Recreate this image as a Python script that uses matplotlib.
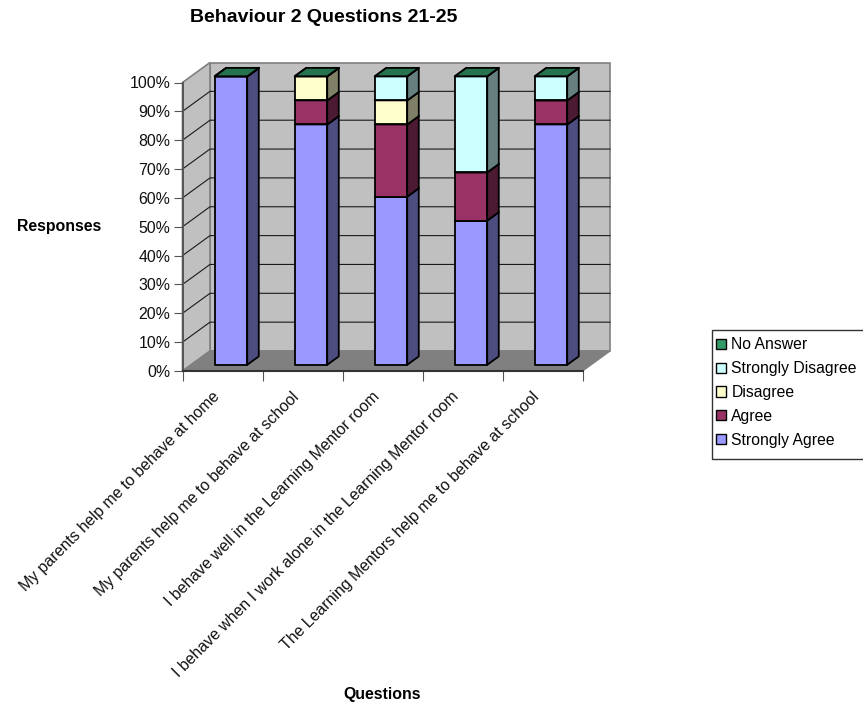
import matplotlib
matplotlib.use("Agg")
import matplotlib.pyplot as plt
from matplotlib.patches import Patch, Rectangle
from matplotlib.transforms import ScaledTranslation

plt.rcParams['font.family'] = ['Liberation Sans', 'DejaVu Sans']

questions = ["My parents help me to behave at home",
             "My parents help me to behave at school",
             "I behave well in the Learning Mentor room",
             "I behave when I work alone in the Learning Mentor room",
             "The Learning Mentors help me to behave at school"]
strongly_agree = [100, 83.3, 58.3, 50, 83.3]
agree = [0, 8.35, 25, 16.7, 8.35]
disagree = [0, 8.35, 8.35, 0, 0]
strongly_disagree = [0, 0, 8.35, 33.3, 8.35]
no_answer = [0, 0, 0, 0, 0]
series_names = ["Strongly Agree", "Agree", "Disagree", "Strongly Disagree", "No Answer"]
series_values = [strongly_agree, agree, disagree, strongly_disagree, no_answer]
front_colors = ["#9999FF", "#993366", "#FFFFCC", "#CCFFFF", "#339966"]
side_colors = ["#4D4D80", "#4D1A33", "#808066", "#668080", "#1A4D33"]
top_colors = ["#7373BF", "#73264D", "#BFBF99", "#99BFBF", "#267350"]
yticks = list(range(0, 101, 10))

W, H = 863, 704
fig = plt.figure(figsize=(W / 100, H / 100), dpi=100)
L, R, T, B = 182.5, 582.5, 82.5, 371
ax = fig.add_axes([L / W, 1 - B / H, (R - L) / W, (B - T) / H])
ax.patch.set_visible(False)
ax.set_xlim(0, 5)
ax.set_ylim(0, 100)

DX = 27.5 / 80          # full depth in category units
DY = 20 / 2.885         # full depth in percent units


def proj(x, y, d):
    return x + d * DX, y + d * DY


def face(pts, **kw):
    p = [proj(*q) for q in pts]
    ax.fill([a for a, _ in p], [b for _, b in p], clip_on=False, **kw)


# walls and floor
wall_edge = "#808080"
face([(0, 0, 1), (5, 0, 1), (5, 100, 1), (0, 100, 1)], fc="#C0C0C0", ec=wall_edge, lw=1.2, zorder=1)
face([(0, 0, 0), (0, 0, 1), (0, 100, 1), (0, 100, 0)], fc="#C0C0C0", ec=wall_edge, lw=1.2, zorder=1)
face([(0, 0, 0), (5, 0, 0), (5, 0, 1), (0, 0, 1)], fc="#808080", ec=wall_edge, lw=1, zorder=1.1)
for v in yticks[1:-1]:
    xs, ys = zip(proj(0, v, 0), proj(0, v, 1), proj(5, v, 1))
    ax.plot(xs, ys, color="#1a1a1a", lw=0.8, clip_on=False, zorder=1.2)

# stacked 3D columns
bar_w = 0.405
d0, d1 = 0.31, 0.73
for i in range(len(questions)):
    x0 = i + 0.5 - bar_w / 2
    x1 = x0 + bar_w
    base = 0
    for s, vals in enumerate(series_values):
        top = base + vals[i]
        z = 3 + s * 0.1
        kw = dict(ec="black", lw=1.3, joinstyle="round", zorder=z)
        face([(x0, base, d0), (x1, base, d0), (x1, top, d0), (x0, top, d0)], fc=front_colors[s], **kw)
        face([(x1, base, d0), (x1, base, d1), (x1, top, d1), (x1, top, d0)], fc=side_colors[s], **kw)
        face([(x0, top, d0), (x1, top, d0), (x1, top, d1), (x0, top, d1)], fc=top_colors[s], **kw)
        base = top

# axes
for sp in ("top", "right"):
    ax.spines[sp].set_visible(False)
ax.spines["left"].set_color("#555555")
ax.spines["left"].set_linewidth(1.4)
ax.spines["bottom"].set_color("#333333")
ax.spines["bottom"].set_linewidth(1.5)
ax.spines["left"].set_zorder(2)
ax.spines["bottom"].set_zorder(2)
fs = 11.4
ax.set_yticks(yticks)
ax.set_yticklabels([f"{v}%" for v in yticks], fontsize=fs, color="#111111")
ax.tick_params(axis="y", length=6.8, width=0.8, color="#555555", pad=2)
ax.set_xticks(range(6))
ax.set_xticklabels([])
ax.tick_params(axis="x", which="major", length=7.2, width=0.8, color="#555555")
ax.set_xticks([i + 0.5 for i in range(5)], minor=True)
ax.set_xticklabels(questions, minor=True, rotation=45, ha="right", va="top",
                   rotation_mode="anchor", fontsize=fs, color="#111111")
ax.tick_params(axis="x", which="minor", length=0, pad=13)
for lab in ax.get_xticklabels(minor=True):
    lab.set_transform(lab.get_transform() + ScaledTranslation(-0.11, 0, fig.dpi_scale_trans))

# titles
fig.text(323.5 / W, 1 - 17 / H, "Behaviour 2 Questions 21-25", ha="center", va="center",
         fontsize=14, fontweight="bold")
fig.text(59.5 / W, 1 - 226.5 / H, "Responses", ha="center", va="center", fontsize=11.4, fontweight="bold")
fig.text(382.5 / W, 1 - 695 / H, "Questions", ha="center", va="center", fontsize=11.4, fontweight="bold")

# legend: its box runs past the right edge of the picture, as in the reference
fig.add_artist(Rectangle((711.5 / W, 1 - 459 / H), 170 / W, 129 / H, transform=fig.transFigure,
                         fc="white", ec="#333333", lw=1))
handles = [Patch(fc=c, ec="black", lw=1) for c in front_colors[::-1]]
leg = fig.legend(handles, series_names[::-1], loc="upper left",
                 bbox_to_anchor=(711.5 / W, 1 - 332.7 / H), fontsize=11.3,
                 frameon=False,
                 handlelength=0.62, handleheight=0.62, handletextpad=0.35,
                 labelspacing=0.56, borderpad=0.3, borderaxespad=0)

fig.savefig("out.png", dpi=100, facecolor="white")
